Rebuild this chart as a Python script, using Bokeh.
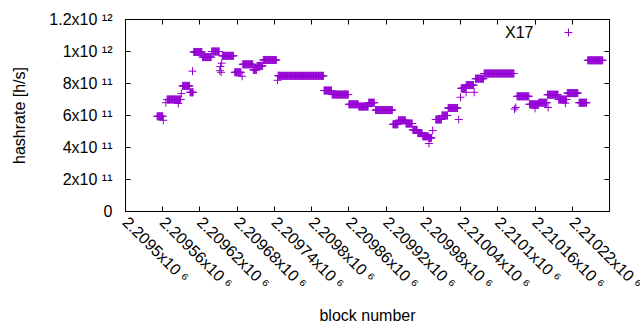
import numpy as np
from bokeh.plotting import figure
from bokeh.models import Range1d, FixedTicker, LinearAxis, Label
from bokeh.embed import file_html
from bokeh.resources import INLINE

# ---- data ----
BASE_BLOCK = 2209500
# runs of constant hashrate: start/end block offsets (inclusive) and value in units of 1e11 h/s
seg_start = [51, 67, 92, 104, 110, 124, 139, 156, 176, 189, 206, 212, 222, 247, 320, 333, 360, 376, 392, 403,
             431, 440, 452, 463, 471, 479, 489, 500, 510, 520, 541, 549, 564, 578, 631, 651, 666, 680, 698, 712,
             731, 745]
seg_end = [60, 89, 103, 109, 123, 138, 151, 174, 186, 205, 211, 221, 243, 319, 332, 359, 375, 391, 401, 430,
           439, 451, 462, 470, 478, 488, 493, 509, 519, 535, 548, 561, 577, 626, 650, 665, 679, 697, 711, 729,
           743, 769]
seg_value = [5.95, 7.0, 7.85, 7.45, 9.97, 9.65, 10.0, 9.73, 8.7, 9.2, 8.85, 9.1, 9.47, 8.48, 7.56, 7.31, 6.7,
             6.56, 6.8, 6.34, 5.45, 5.7, 5.5, 5.1, 4.9, 4.7, 4.6, 5.75, 6.0, 6.47, 7.7, 7.9, 8.3, 8.625, 7.2,
             6.7, 6.8, 7.3, 7.0, 7.4, 6.8, 9.45]
# isolated points
pt_block = [61, 65, 85, 90, 108, 152, 153, 154, 155, 188, 245, 246, 489, 495, 537, 540, 549, 562, 627, 629,
            660, 681, 709]
pt_value = [5.7, 6.8, 6.75, 7.37, 8.77, 8.8, 9.06, 8.7, 9.27, 8.45, 8.2, 8.5, 4.25, 5.06, 5.75, 7.14, 7.45,
            7.45, 6.4, 6.5, 6.45, 6.5, 6.77]

x_ticks = [2209500, 2209560, 2209620, 2209680, 2209740, 2209800, 2209860, 2209920, 2209980, 2210040,
           2210100, 2210160, 2210220, 2210280]
x_tick_labels = ["2.2095x10 ⁶", "2.20956x10 ⁶", "2.20962x10 ⁶", "2.20968x10 ⁶", "2.20974x10 ⁶",
                 "2.2098x10 ⁶", "2.20986x10 ⁶", "2.20992x10 ⁶", "2.20998x10 ⁶", "2.21004x10 ⁶",
                 "2.2101x10 ⁶", "2.21016x10 ⁶", "2.21022x10 ⁶", "2.21028x10 ⁶"]
y_ticks = [0, 200000000000, 400000000000, 600000000000, 800000000000, 1000000000000, 1200000000000]
y_tick_labels = ["0", "2x10 ¹¹", "4x10 ¹¹", "6x10 ¹¹", "8x10 ¹¹", "1x10 ¹²", "1.2x10 ¹²"]

# ---- expand run-length data into per-block points ----
xs, ys = [], []
for s, e, v in zip(seg_start, seg_end, seg_value):
    for b in range(s, e + 1):
        xs.append(BASE_BLOCK + b)
        ys.append(v * 1e11)
for b, v in zip(pt_block, pt_value):
    xs.append(BASE_BLOCK + b)
    ys.append(v * 1e11)

COLOR = "#9400D3"
FONT = "Liberation Sans"
FS = "16px"
X0, X1 = x_ticks[0], x_ticks[-1]
Y0, Y1 = y_ticks[0], y_ticks[-1]

p = figure(width=640, height=330, output_backend="svg", toolbar_location=None,
           x_range=Range1d(X0, X1), y_range=Range1d(Y0, Y1),
           min_border_left=125, min_border_right=31, min_border_top=19, min_border_bottom=119)
p.background_fill_color = "white"
p.border_fill_color = "white"
p.grid.visible = False
p.outline_line_color = "black"
p.outline_line_width = 1

p.scatter(xs, ys, marker="cross", size=8, line_color=COLOR, line_width=1)

# axes
xa = p.xaxis[0]
xa.ticker = FixedTicker(ticks=x_ticks)
# the last tick label runs off the right edge of the page: drawn separately below
over = {t: l for t, l in zip(x_ticks, x_tick_labels)}
over[x_ticks[-1]] = ""
xa.major_label_overrides = over
xa.major_label_orientation = -np.pi / 4
xa.axis_label = "block number"
ya = p.yaxis[0]
ya.ticker = FixedTicker(ticks=y_ticks)
ya.major_label_overrides = {t: l for t, l in zip(y_ticks, y_tick_labels)}
ya.axis_label = "hashrate [h/s]"
for ax in (xa, ya):
    ax.major_label_text_font = FONT
    ax.major_label_text_font_size = FS
    ax.major_label_text_color = "black"
    ax.axis_label_text_font = FONT
    ax.axis_label_text_font_size = FS
    ax.axis_label_text_font_style = "normal"
    ax.axis_label_text_color = "black"
    ax.major_tick_in = 5
    ax.major_tick_out = 0
    ax.minor_tick_line_color = None
    ax.axis_line_color = "black"
    ax.major_tick_line_color = "black"
xa.major_label_standoff = 8
xa.axis_label_standoff = 6
ya.major_label_standoff = 13
ya.axis_label_standoff = 18

p.add_layout(Label(x=x_ticks[-1], y=Y0, text=x_tick_labels[-1], angle=-np.pi / 4,
                   text_align="left", text_baseline="top", y_offset=-8,
                   text_font=FONT, text_font_size=FS, text_color="black"))

# mirrored ticks on top and right
for side, tk in (("above", x_ticks), ("right", y_ticks)):
    ax = LinearAxis(ticker=FixedTicker(ticks=tk))
    ax.major_label_overrides = {t: "" for t in tk}
    ax.major_label_standoff = 0
    ax.major_tick_in = 5
    ax.major_tick_out = 0
    ax.minor_tick_line_color = None
    ax.axis_line_color = "black"
    ax.major_tick_line_color = "black"
    p.add_layout(ax, side)

# key (legend) in the top-right corner
px_per_block = 484.0 / (X1 - X0)
key_text_x = X1 - 76 / px_per_block
key_y = Y1 - 13 * (Y1 - Y0) / 192.0
p.add_layout(Label(x=key_text_x, y=key_y, text="X17", text_align="right", text_baseline="middle",
                   text_font=FONT, text_font_size=FS, text_color="black"))
p.scatter([X1 - 41 / px_per_block], [key_y], marker="cross", size=8, line_color=COLOR, line_width=1)

open("out.html", "w").write(file_html(p, INLINE))
